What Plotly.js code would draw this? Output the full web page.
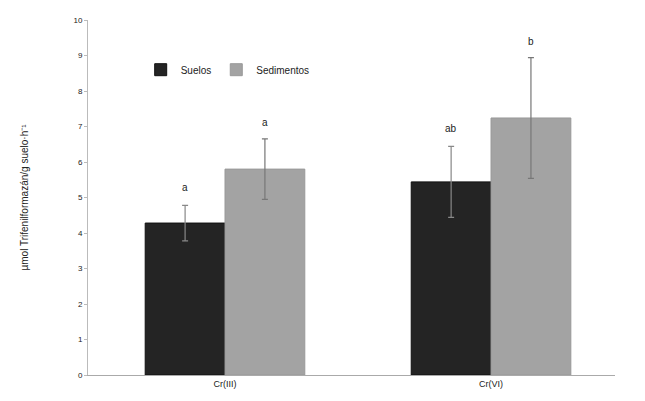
<!DOCTYPE html>
<html>
<head>
<meta charset="utf-8">
<script src="https://cdn.plot.ly/plotly-3.0.1.min.js"></script>
<style>html,body{margin:0;padding:0;background:#fff}#chart{width:645px;height:401px}</style>
</head>
<body>
<div id="chart"></div>
<script>
const categories = ["Cr(III)", "Cr(VI)"];
const suelos = [4.28, 5.44];
const suelosErr = [0.5, 1.0];
const suelosLetters = ["a", "ab"];
const sedimentos = [5.8, 7.24];
const sedimentosErr = [0.85, 1.7];
const sedimentosLetters = ["a", "b"];
const yTicks = [0,1,2,3,4,5,6,7,8,9,10];

const font = {family: "Liberation Sans, Arial, sans-serif", size: 9, color: "#222"};

const traces = [
  {type: "bar", name: "Suelos", x: categories, y: suelos,
   marker: {color: "#242424", line: {color: "#111", width: 1}},
   error_y: {type: "data", array: suelosErr, visible: true, color: "#888", thickness: 1.2, width: 3}},
  {type: "bar", name: "Sedimentos", x: categories, y: sedimentos,
   marker: {color: "#a3a3a3", line: {color: "#999", width: 1}},
   error_y: {type: "data", array: sedimentosErr, visible: true, color: "#777", thickness: 1.2, width: 3}}
];

const annotations = [];
categories.forEach((c, i) => {
  annotations.push({x: i - 0.15, y: suelos[i] + suelosErr[i], xref: "x", yref: "y", text: suelosLetters[i],
    showarrow: false, yshift: 18, font: {family: font.family, size: 10, color: "#222"}});
  annotations.push({x: i + 0.15, y: sedimentos[i] + sedimentosErr[i], xref: "x", yref: "y", text: sedimentosLetters[i],
    showarrow: false, yshift: 16, font: {family: font.family, size: 10, color: "#222"}});
});

const layout = {
  width: 645, height: 401,
  margin: {l: 88, r: 30, t: 20, b: 26},
  paper_bgcolor: "#fff", plot_bgcolor: "#fff",
  font: font,
  barmode: "group", bargap: 0.4, bargroupgap: 0,
  showlegend: true,
  legend: {orientation: "h", x: 0.1, y: 0.86, xanchor: "left", yanchor: "middle",
    font: {family: font.family, size: 10, color: "#222"}, bgcolor: "rgba(0,0,0,0)", itemwidth: 30},
  xaxis: {type: "category", range: [-0.515, 1.466], showline: true, linecolor: "#aaa", linewidth: 1, ticks: "",
    tickfont: {family: font.family, size: 9, color: "#222"}, showgrid: false},
  yaxis: {range: [0, 10], tickvals: yTicks, showline: true, linecolor: "#bbb", linewidth: 1,
    ticks: "outside", ticklen: 3, tickcolor: "#bbb", showgrid: false, zeroline: false,
    tickfont: {family: font.family, size: 8, color: "#222"},
    title: {text: "µmol Trifenilformazán/g suelo·h⁻¹", font: {family: font.family, size: 10, color: "#222"}, standoff: 42}},
  annotations: annotations
};

Plotly.newPlot("chart", traces, layout, {displayModeBar: false, staticPlot: true});
</script>
</body>
</html>
